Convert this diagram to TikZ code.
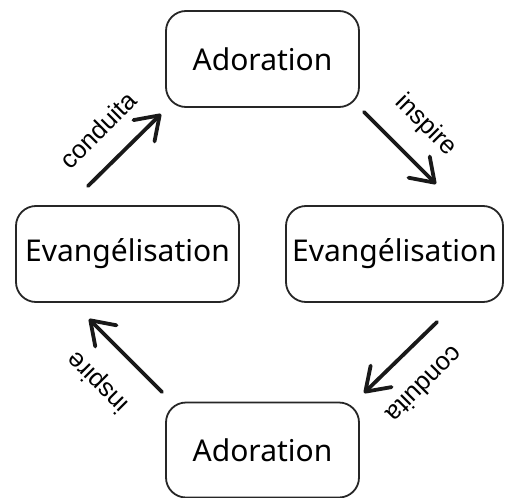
\documentclass[tikz,border=0pt]{standalone}
\usepackage{fontspec}
\setmainfont{Noto Sans}
\newfontfamily\labfont{Liberation Sans}
\usetikzlibrary{arrows.meta}
\begin{document}
\begin{tikzpicture}[x=1pt,y=-1pt,
  box/.style={draw=black!85,line width=1.8pt,rounded corners=20pt,font=\fontsize{30}{32}\selectfont,inner sep=0pt},
  arr/.style={line width=3.8pt,draw=black!90,line cap=round,-{Straight Barb[length=22pt,width=30pt,line width=3.8pt,round]}},
  lab/.style={font=\labfont\fontsize{25.5}{27}\selectfont,inner sep=0pt}]
\useasboundingbox (0,0) rectangle (509,498);
\node[box,minimum width=193pt,minimum height=96pt] (top) at (262.5,59) {Adoration};
\node[box,minimum width=223pt,minimum height=96pt] (left) at (127.5,254) {Evangélisation};
\node[box,minimum width=217pt,minimum height=96pt] (right) at (394.5,254) {Evangélisation};
\node[box,minimum width=193pt,minimum height=95pt] (bot) at (262.5,450) {Adoration};
\coordinate (a1s) at (88,186); \coordinate (a1e) at (161,114);
\coordinate (a2s) at (364,112); \coordinate (a2e) at (436,184);
\coordinate (a3s) at (437,322); \coordinate (a3e) at (364,393);
\coordinate (a4s) at (162,392); \coordinate (a4e) at (89,319);
\draw[arr] (a1s) -- (a1e);
\draw[arr] (a2s) -- (a2e);
\draw[arr] (a3s) -- (a3e);
\draw[arr] (a4s) -- (a4e);
\node[lab,rotate=45] (l1) at (98,130) {conduita};
\node[lab,rotate=-45] (l2) at (426,125) {inspire};
\node[lab,rotate=-135] (l3) at (425,385) {conduita};
\node[lab,rotate=135] (l4) at (98,382) {inspire};
\end{tikzpicture}
\end{document}
